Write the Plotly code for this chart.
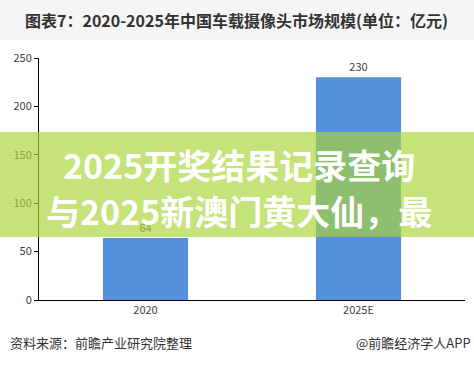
import plotly.graph_objects as go

categories = ["2020", "2025E"]
values = [64, 230]
value_labels = ["64", "230"]
y_ticks = [0, 50, 100, 150, 200, 250]

title_text = "图表7：2020-2025年中国车载摄像头市场规模(单位：亿元)"
source_text = "资料来源：前瞻产业研究院整理"
brand_text = "@前瞻经济学人APP"
overlay_lines = ["2025开奖结果记录查询", "与2025新澳门黄大仙，最"]

W, H = 474, 370
ML, MR, MT, MB = 39, 9, 58, 70
PW, PH = W - ML - MR, H - MT - MB

def px_x(p):
    return (p - ML) / PW

def px_y(p):
    return (H - MB - p) / PH

FONT = "Noto Sans CJK SC, Noto Sans, sans-serif"

fig = go.Figure()
fig.add_trace(go.Bar(
    x=categories, y=values, text=value_labels, textposition="outside",
    textfont=dict(size=11, color="#404040", family=FONT),
    marker=dict(color="#5590dc", line=dict(width=0)),
    width=0.4, cliponaxis=False, hoverinfo="skip",
))

shapes = [
    # title bar background
    dict(type="rect", xref="paper", yref="paper", x0=px_x(0), x1=px_x(W),
         y0=px_y(40), y1=px_y(0), fillcolor="#f5f5f5", line=dict(width=0), layer="below"),
    # green overlay band
    dict(type="rect", xref="paper", yref="paper", x0=px_x(0), x1=px_x(W),
         y0=px_y(237), y1=px_y(132), fillcolor="rgba(169,214,58,0.68)",
         line=dict(width=0), layer="above"),
]

annotations = [
    dict(text="<b>" + title_text + "</b>", xref="paper", yref="paper",
         x=px_x(236), y=px_y(20), showarrow=False, xanchor="center", yanchor="middle",
         font=dict(size=16, color="#333333", family=FONT)),
    dict(text=source_text, xref="paper", yref="paper", x=px_x(8), y=px_y(342),
         showarrow=False, xanchor="left", yanchor="middle",
         font=dict(size=13, color="#333333", family=FONT)),
    dict(text=brand_text, xref="paper", yref="paper", x=px_x(473), y=px_y(342),
         showarrow=False, xanchor="right", yanchor="middle",
         font=dict(size=13, color="#333333", family=FONT)),
    dict(text="<b>" + overlay_lines[0] + "</b>", xref="paper", yref="paper",
         x=px_x(238.5), y=px_y(164), showarrow=False, xanchor="center", yanchor="middle",
         font=dict(size=34, color="white", family=FONT)),
    dict(text="<b>" + overlay_lines[1] + "</b>", xref="paper", yref="paper",
         x=px_x(238.5), y=px_y(210), showarrow=False, xanchor="center", yanchor="middle",
         font=dict(size=34, color="white", family=FONT)),
]

fig.update_layout(
    width=W, height=H, margin=dict(l=ML, r=MR, t=MT, b=MB),
    paper_bgcolor="white", plot_bgcolor="white", showlegend=False,
    shapes=shapes, annotations=annotations,
    font=dict(family=FONT, color="#404040"),
    xaxis=dict(showline=True, linecolor="black", linewidth=1, showgrid=False,
               ticks="", tickfont=dict(size=11, color="#404040"), fixedrange=True),
    yaxis=dict(range=[0, 250], tickvals=y_ticks, showline=True, linecolor="black",
               linewidth=1, showgrid=False, zeroline=False, ticks="outside",
               ticklen=4, tickcolor="black", tickfont=dict(size=11, color="#404040"),
               fixedrange=True),
)

fig.write_html("out.html", config={"displayModeBar": False},
               post_script="document.body.style.margin='0';document.body.style.padding='0';")
